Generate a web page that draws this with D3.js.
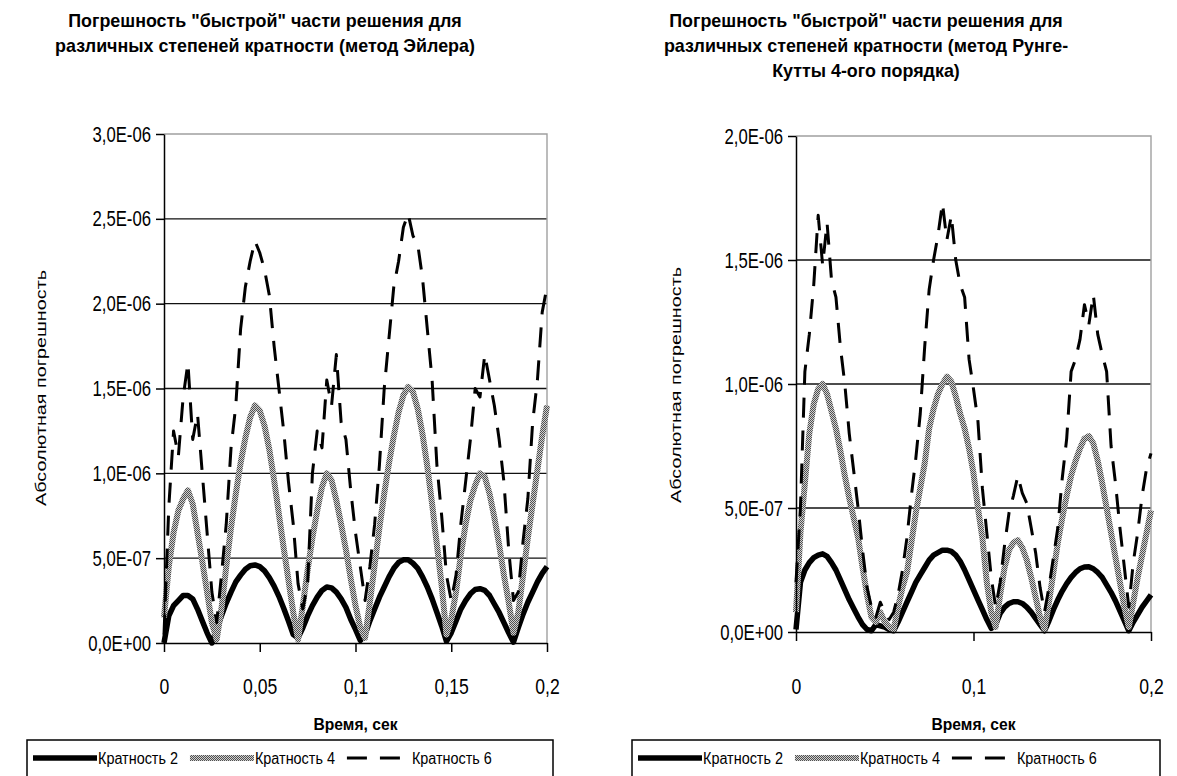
<!DOCTYPE html>
<html>
<head>
<meta charset="utf-8">
<script src="https://cdn.jsdelivr.net/npm/d3@7"></script>
<style>
  body { margin: 0; background: #fff; }
  svg { display: block; font-family: Arial, 'Liberation Sans', sans-serif; }
</style>
</head>
<body>
<svg id="chart" width="1177" height="776"></svg>
<script>
'use strict'

// values are in units of 1e-7
const UNIT = 1e-7;

const TIME = [
  0, 0.0025, 0.005, 0.0075, 0.01, 0.0125, 0.015, 0.0175, 0.02, 0.0225,
  0.025, 0.0275, 0.03, 0.0325, 0.035, 0.0375, 0.04, 0.0425, 0.045, 0.0475,
  0.05, 0.0525, 0.055, 0.0575, 0.06, 0.0625, 0.065, 0.0675, 0.07, 0.0725,
  0.075, 0.0775, 0.08, 0.0825, 0.085, 0.0875, 0.09, 0.0925, 0.095, 0.0975,
  0.1, 0.1025, 0.105, 0.1075, 0.11, 0.1125, 0.115, 0.1175, 0.12, 0.1225,
  0.125, 0.1275, 0.13, 0.1325, 0.135, 0.1375, 0.14, 0.1425, 0.145, 0.1475,
  0.15, 0.1525, 0.155, 0.1575, 0.16, 0.1625, 0.165, 0.1675, 0.17, 0.1725,
  0.175, 0.1775, 0.18, 0.1825, 0.185, 0.1875, 0.19, 0.1925, 0.195, 0.1975,
  0.2
];

// Euler method
const EULER_K2 = [
  0, 1.6, 2.2, 2.5, 2.8, 2.8, 2.6, 2.0, 1.3, 0.6,
  0.0, 0.8, 1.6, 2.35, 3.0, 3.6, 4.0, 4.35, 4.55, 4.6,
  4.5, 4.25, 3.85, 3.35, 2.75, 2.05, 1.3, 0.5, 0.3, 0.9,
  1.6, 2.2, 2.7, 3.1, 3.3, 3.25, 3.0, 2.6, 2.1, 1.4,
  0.8, 0.15, 0.5, 1.3, 2.0, 2.7, 3.3, 3.9, 4.4, 4.75,
  4.9, 4.9, 4.7, 4.4, 3.9, 3.3, 2.6, 1.8, 1.0, 0.1,
  0.6, 1.3, 2.0, 2.5, 2.9, 3.15, 3.2, 3.1, 2.8, 2.3,
  1.8, 1.2, 0.6, 0.05, 0.9, 1.7, 2.4, 3.0, 3.6, 4.1,
  4.5
];
const EULER_K4 = [
  1.5, 4.5, 6.5, 7.8, 8.5, 9.0, 8.2, 6.5, 4.8, 3.0,
  1.2, 0.2, 2.0, 4.5, 6.8, 8.8, 10.6, 12.1, 13.3, 14.0,
  13.7, 12.8, 11.4, 9.6, 7.6, 5.6, 3.7, 1.8, 0.2, 2.2,
  4.3, 6.2, 7.8, 9.2, 10.0, 9.6, 8.4, 7.0, 5.5, 3.8,
  2.2, 0.9, 0.3, 2.4, 4.6, 6.8, 8.8, 10.6, 12.2, 13.6,
  14.6, 15.1, 14.8, 13.8, 12.3, 10.4, 8.2, 5.8, 3.4, 0.5,
  1.4, 3.0, 5.2, 7.0, 8.4, 9.3, 10.0, 9.8, 8.8, 7.4,
  5.8, 4.0, 2.4, 0.6, 1.8, 4.0, 6.2, 8.2, 10.2, 12.2,
  14.0
];
const EULER_K6 = [
  0.5, 8.0, 12.5, 11.0, 14.5, 16.5, 12.0, 13.5, 10.0, 6.5,
  3.0, 1.2, 4.0, 7.0, 11.5, 14.0, 18.5, 21.0, 22.5, 23.7,
  23.0, 22.0, 20.5, 17.5, 15.0, 12.5, 9.5, 7.0, 3.5, 2.0,
  3.5, 10.0, 12.5, 11.5, 15.5, 14.0, 17.0, 13.0, 12.0, 9.0,
  6.5, 4.5, 2.5, 4.5, 7.0, 10.5, 15.0, 18.0, 21.0, 22.5,
  24.5, 25.3, 24.0, 23.5, 21.5, 18.5, 15.5, 10.5, 7.5, 4.0,
  2.5, 4.0, 7.0, 9.5, 12.0, 15.0, 14.5, 17.0, 15.5, 14.0,
  12.0, 9.5, 5.5, 2.5, 3.0, 6.0, 8.5, 13.0, 15.5, 19.5,
  21.0
];

// Runge-Kutta 4th order
const RK4_K2 = [
  0.1, 2.0, 2.5, 2.8, 3.0, 3.1, 3.15, 3.05, 2.8, 2.5,
  2.1, 1.7, 1.3, 0.95, 0.6, 0.3, 0.1, 0.05, 0.3, 0.25,
  0.2, 0.1, 0.05, 0.4, 0.8, 1.2, 1.6, 2.0, 2.3, 2.6,
  2.9, 3.1, 3.2, 3.3, 3.3, 3.25, 3.1, 2.85, 2.5, 2.1,
  1.7, 1.3, 0.9, 0.5, 0.15, 0.3, 0.75, 1.0, 1.15, 1.22,
  1.22, 1.15, 1.0, 0.8, 0.55, 0.3, 0.05, 0.45, 0.9, 1.3,
  1.65, 1.95, 2.2, 2.4, 2.55, 2.62, 2.63, 2.55, 2.4, 2.2,
  1.9, 1.6, 1.25, 0.85, 0.45, 0.05, 0.4, 0.7, 1.0, 1.25,
  1.5
];
const RK4_K4 = [
  0.8, 4.0, 6.0, 8.0, 9.2, 9.8, 10.0, 9.6, 8.9, 8.2,
  7.3, 6.3, 5.4, 4.6, 3.8, 2.6, 1.5, 0.6, 0.4, 0.8,
  0.4, 0.2, 0.1, 1.0, 1.8, 2.4, 3.6, 4.8, 5.8, 6.8,
  8.2, 9.0, 9.6, 10.0, 10.3, 10.1, 9.5, 8.8, 8.2, 7.4,
  6.4, 5.0, 3.8, 2.0, 0.8, 0.2, 1.5, 2.6, 3.3, 3.6,
  3.7, 3.4, 2.9, 2.2, 1.4, 0.6, 0.1, 1.2, 2.4, 3.6,
  4.6, 5.5, 6.3, 6.9, 7.4, 7.8, 7.9, 7.6, 6.9, 6.0,
  5.0, 4.0, 3.0, 2.0, 1.0, 0.2, 1.2, 2.2, 3.1, 4.0,
  4.9
];
const RK4_K6 = [
  2.0, 5.0, 10.5, 12.0, 14.0, 16.8, 14.8, 16.5, 14.2, 13.5,
  11.5, 10.0, 8.0, 6.5, 5.0, 3.3, 1.8, 1.0, 0.6, 1.2,
  0.8, 0.5, 0.8, 1.5, 2.5, 3.8, 5.5, 7.0, 8.8, 11.5,
  13.8, 15.0, 16.0, 17.3, 15.8, 16.8, 15.0, 14.0, 13.5, 11.0,
  9.8, 8.5, 5.8, 4.0, 2.2, 1.0, 2.0, 3.5, 4.8, 5.5,
  6.3, 5.6, 5.2, 4.2, 3.2, 1.8, 0.8, 1.8, 3.0, 4.2,
  6.2, 7.8, 10.5, 11.0, 11.8, 13.2, 12.4, 13.6, 12.0, 11.2,
  10.5, 7.5, 6.0, 4.2, 2.6, 1.0, 2.8, 4.0, 5.5, 6.6,
  7.2
];

const SERIES_NAMES = ['Кратность 2', 'Кратность 4', 'Кратность 6'];

const EULER_Y_TICKS = [0, 5e-7, 1e-6, 1.5e-6, 2e-6, 2.5e-6, 3e-6];
const RK4_Y_TICKS = [0, 5e-7, 1e-6, 1.5e-6, 2e-6];
const EULER_X_TICKS = [0, 0.05, 0.1, 0.15, 0.2];
const RK4_X_TICKS = [0, 0.1, 0.2];

const EULER_TITLE = ['Погрешность "быстрой" части решения для',
                     'различных степеней кратности (метод Эйлера)'];
const RK4_TITLE = ['Погрешность "быстрой" части решения для',
                   'различных степеней кратности (метод Рунге-',
                   'Кутты 4-ого порядка)'];
const X_TITLE = 'Время, сек';
const Y_TITLE = 'Абсолютная погрешность';


function sciLabel(v) {
  if (v === 0) return '0,0E+00';
  let [m, e] = v.toExponential(1).split('e');
  let n = Math.abs(+e);
  return `${m.replace('.', ',')}E${+e < 0 ? '-' : '+'}${n < 10 ? '0' + n : n}`;
}

function commaLabel(v) {
  return String(v).replace('.', ',');
}

// squeeze the glyphs horizontally, the source picture is stretched vertically
function squeeze(sel, k) {
  sel.each(function() {
    let w = this.getComputedTextLength();
    d3.select(this)
      .attr('textLength', w * k)
      .attr('lengthAdjust', 'spacingAndGlyphs');
  });
}

let svg = d3.select('#chart');

let defs = svg.append('defs');
let pat = defs.append('pattern')
  .attr('id', 'checker')
  .attr('width', 2)
  .attr('height', 2)
  .attr('patternUnits', 'userSpaceOnUse');
pat.append('rect').attr('width', 2).attr('height', 2).attr('fill', '#d0d0d0');
pat.append('rect').attr('width', 1).attr('height', 1).attr('fill', '#505050');
pat.append('rect').attr('x', 1).attr('y', 1).attr('width', 1).attr('height', 1).attr('fill', '#505050');

const STYLES = [
  {stroke: '#000', width: 5.5, dash: null},
  {stroke: 'url(#checker)', width: 6, dash: null},
  {stroke: '#000', width: 3, dash: '20,13'},
];


function drawChart(cfg) {
  let g = svg.append('g');
  let x = d3.scaleLinear().domain([0, 0.2]).range([cfg.left, cfg.right]);
  let y = d3.scaleLinear().domain([0, d3.max(cfg.yTicks)]).range([cfg.bottom, cfg.top]);

  // Draw title
  (g.selectAll('text.title')
    .data(cfg.title)
    .enter()
      .append('text')
        .attr('class', 'title')
        .attr('x', cfg.titleX)
        .attr('y', (d, i) => 27 + i * 25)
        .attr('text-anchor', 'middle')
        .attr('font-size', 19)
        .attr('font-weight', 'bold')
        .text((d) => d)
        .call(squeeze, 0.94)
  );

  // Draw gridlines
  (g.selectAll('line.grid')
    .data(cfg.yTicks.slice(1, -1))
    .enter()
      .append('line')
        .attr('x1', cfg.left)
        .attr('x2', cfg.right)
        .attr('y1', (d) => y(d))
        .attr('y2', (d) => y(d))
        .attr('stroke', '#111')
        .attr('stroke-width', 1.4)
  );

  // Plot border, top and right
  (g.append('path')
    .attr('d', `M${cfg.left},${cfg.top}H${cfg.right}V${cfg.bottom}`)
    .attr('fill', 'none')
    .attr('stroke', '#a0a0a0')
    .attr('stroke-width', 1.4)
  );

  // Draw series
  let line = d3.line()
    .x((d, i) => x(TIME[i]))
    .y((d) => y(d * UNIT));
  cfg.series.forEach((s, k) => {
    (g.append('path')
      .datum(s)
      .attr('d', line)
      .attr('fill', 'none')
      .attr('stroke', STYLES[k].stroke)
      .attr('stroke-width', STYLES[k].width)
      .attr('stroke-dasharray', STYLES[k].dash)
      .attr('stroke-linejoin', 'round')
    );
  });

  // Y axis
  let yAxis = (g.append('g')
    .attr('transform', `translate(${cfg.left},0)`)
    .call(d3.axisLeft(y)
      .tickValues(cfg.yTicks)
      .tickSize(8)
      .tickSizeOuter(0)
      .tickPadding(5)
      .tickFormat(sciLabel)));
  yAxis.selectAll('path, line').attr('stroke', '#000').attr('stroke-width', 1.5);
  (yAxis.selectAll('text')
    .attr('font-size', 22)
    .attr('font-family', null)
    .attr('fill', '#000')
    .call(squeeze, 0.76));

  // X axis
  let xAxis = (g.append('g')
    .attr('transform', `translate(0,${cfg.bottom})`)
    .call(d3.axisBottom(x)
      .tickValues(cfg.xTicks)
      .tickSize(9)
      .tickSizeOuter(0)
      .tickFormat(commaLabel)));
  xAxis.selectAll('path, line').attr('stroke', '#000').attr('stroke-width', 1.5);
  (xAxis.selectAll('text')
    .attr('font-size', 22)
    .attr('font-family', null)
    .attr('fill', '#000')
    .attr('y', 686 - cfg.bottom)
    .attr('dy', '0.35em')
    .call(squeeze, 0.8));

  // Axis titles
  (g.append('text')
    .attr('x', (cfg.left + cfg.right) / 2)
    .attr('y', 730)
    .attr('text-anchor', 'middle')
    .attr('font-size', 17)
    .attr('font-weight', 'bold')
    .text(X_TITLE)
    .call(squeeze, 0.92));
  (g.append('text')
    .attr('transform', `translate(${cfg.yTitleX},${cfg.yTitleY}) rotate(-90)`)
    .attr('text-anchor', 'middle')
    .attr('font-size', 15)
    .text(Y_TITLE)
    .attr('textLength', 236)
    .attr('lengthAdjust', 'spacingAndGlyphs'));

  // Legend
  let lg = g.append('g');
  (lg.append('rect')
    .attr('x', cfg.legendX)
    .attr('y', 740)
    .attr('width', cfg.legendW)
    .attr('height', 60)
    .attr('fill', '#fff')
    .attr('stroke', '#000')
    .attr('stroke-width', 1.5));
  let lx = cfg.legendX + 6;
  SERIES_NAMES.forEach((name, k) => {
    (lg.append('line')
      .attr('x1', lx)
      .attr('x2', lx + 64)
      .attr('y1', 758)
      .attr('y2', 758)
      .attr('stroke', STYLES[k].stroke)
      .attr('stroke-width', STYLES[k].width)
      .attr('stroke-dasharray', STYLES[k].dash));
    let t = (lg.append('text')
      .attr('x', lx + 65)
      .attr('y', 758)
      .attr('dy', '0.35em')
      .attr('font-size', 16)
      .text(name)
      .call(squeeze, 0.9));
    lx += 65 + +t.attr('textLength') + 12;
  });
}


drawChart({
  left: 164, right: 547, top: 134, bottom: 643,
  yTicks: EULER_Y_TICKS, xTicks: EULER_X_TICKS,
  series: [EULER_K2, EULER_K4, EULER_K6],
  title: EULER_TITLE, titleX: 265,
  yTitleX: 46, yTitleY: 388,
  legendX: 27, legendW: 526,
});

drawChart({
  left: 796, right: 1151, top: 136, bottom: 632,
  yTicks: RK4_Y_TICKS, xTicks: RK4_X_TICKS,
  series: [RK4_K2, RK4_K4, RK4_K6],
  title: RK4_TITLE, titleX: 866,
  yTitleX: 681, yTitleY: 385,
  legendX: 632, legendW: 528,
});
</script>
</body>
</html>
